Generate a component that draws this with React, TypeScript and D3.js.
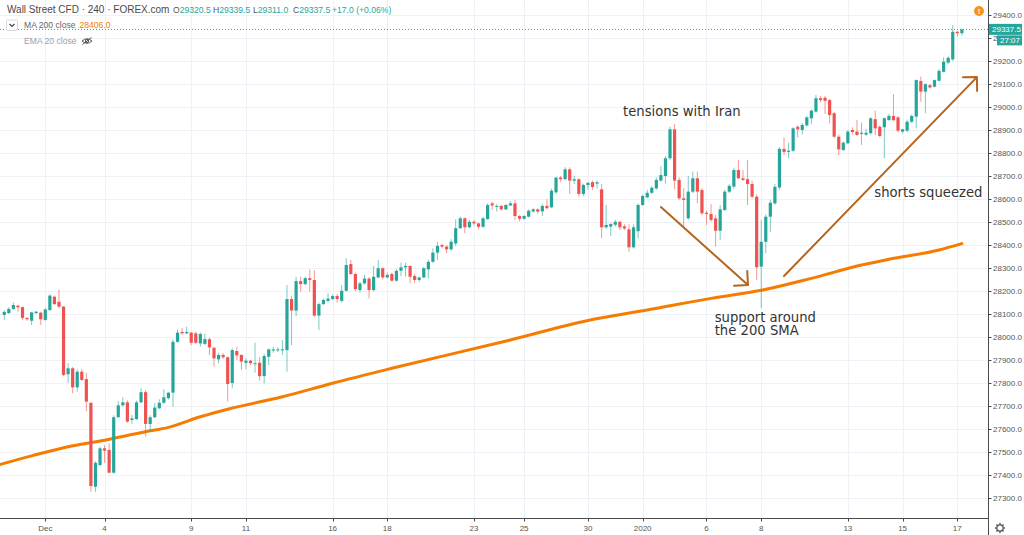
import React from "react";
import * as d3 from "d3";

const W = 1024;
const H = 535;

// 4h candles: [open, high, low, close], Nov 27 2019 -> Jan 17 2020
const candles: [number, number, number, number][] = [
  [28096, 28117, 28074, 28109], [28104, 28130, 28100, 28122], [28122, 28150, 28118, 28139],
  [28136, 28140, 28110, 28129], [28130, 28133, 28074, 28083], [28083, 28085, 28070, 28077],
  [28071, 28110, 28052, 28107], [28104, 28113, 28100, 28110], [28106, 28110, 28052, 28077],
  [28074, 28125, 28070, 28120], [28117, 28185, 28115, 28180], [28175, 28180, 28140, 28143],
  [28153, 28207, 28125, 28132], [28132, 28135, 27830, 27835], [27838, 27886, 27800, 27864],
  [27864, 27870, 27755, 27781], [27781, 27860, 27762, 27849], [27849, 27860, 27810, 27813],
  [27817, 27845, 27678, 27719], [27714, 27716, 27327, 27352], [27349, 27460, 27327, 27453],
  [27443, 27523, 27440, 27516], [27516, 27530, 27453, 27506], [27509, 27538, 27407, 27410],
  [27410, 27660, 27405, 27651], [27651, 27722, 27650, 27703], [27703, 27738, 27697, 27716],
  [27716, 27725, 27627, 27632], [27639, 27661, 27622, 27646], [27643, 27723, 27640, 27716],
  [27716, 27779, 27712, 27760], [27760, 27770, 27567, 27622], [27622, 27660, 27588, 27651],
  [27651, 27712, 27648, 27693], [27690, 27729, 27686, 27714], [27714, 27773, 27710, 27738],
  [27734, 27760, 27728, 27758], [27758, 27990, 27697, 27979], [27979, 28033, 27975, 28019],
  [28022, 28040, 28010, 28016], [28016, 28045, 28012, 28022], [28019, 28022, 27965, 27975],
  [28016, 28023, 27970, 27975], [27972, 28020, 27958, 28013], [27970, 28015, 27965, 27991],
  [27990, 27998, 27922, 27955], [27953, 27958, 27871, 27907], [27903, 27932, 27886, 27922],
  [27922, 27930, 27905, 27912], [27912, 27915, 27719, 27796], [27800, 27951, 27777, 27943],
  [27939, 27958, 27900, 27920], [27922, 27925, 27857, 27893], [27888, 27907, 27860, 27897],
  [27897, 27900, 27878, 27886], [27882, 27975, 27845, 27886], [27888, 27912, 27810, 27830],
  [27830, 27926, 27799, 27917], [27914, 27950, 27878, 27946], [27941, 27958, 27932, 27946],
  [27943, 27955, 27935, 27946], [27943, 27987, 27922, 27946], [27943, 28226, 27849, 28165],
  [28165, 28180, 27965, 28115], [28115, 28262, 28091, 28243], [28243, 28262, 28197, 28230],
  [28230, 28262, 28225, 28256], [28256, 28294, 28197, 28248], [28248, 28291, 28088, 28093],
  [28093, 28150, 28030, 28143], [28143, 28167, 28138, 28161], [28157, 28190, 28150, 28167],
  [28165, 28185, 28160, 28178], [28178, 28187, 28150, 28165], [28157, 28226, 28150, 28201],
  [28201, 28342, 28198, 28313], [28317, 28335, 28270, 28274], [28274, 28280, 28200, 28208],
  [28204, 28240, 28193, 28233], [28233, 28270, 28228, 28254], [28254, 28260, 28168, 28204],
  [28204, 28309, 28200, 28262], [28259, 28335, 28255, 28299], [28299, 28303, 28251, 28259],
  [28259, 28280, 28255, 28270], [28274, 28280, 28240, 28245], [28245, 28295, 28240, 28288],
  [28288, 28323, 28265, 28303], [28303, 28323, 28262, 28309], [28309, 28312, 28233, 28262],
  [28265, 28275, 28235, 28248], [28248, 28262, 28240, 28259], [28259, 28305, 28255, 28299],
  [28294, 28335, 28255, 28327], [28327, 28386, 28322, 28367], [28367, 28414, 28335, 28396],
  [28400, 28407, 28385, 28393], [28393, 28400, 28364, 28381], [28381, 28425, 28375, 28414],
  [28407, 28512, 28396, 28473], [28473, 28523, 28470, 28516], [28516, 28520, 28451, 28477],
  [28477, 28509, 28473, 28501], [28501, 28509, 28485, 28494], [28494, 28497, 28468, 28479],
  [28479, 28523, 28475, 28516], [28513, 28581, 28509, 28574], [28581, 28588, 28552, 28572],
  [28568, 28578, 28545, 28570], [28570, 28574, 28549, 28555], [28555, 28578, 28552, 28574],
  [28572, 28590, 28570, 28581], [28581, 28596, 28509, 28526], [28526, 28530, 28503, 28514],
  [28514, 28530, 28510, 28526], [28523, 28555, 28520, 28549], [28546, 28560, 28540, 28555],
  [28555, 28560, 28535, 28545], [28546, 28578, 28526, 28570], [28570, 28599, 28555, 28560],
  [28564, 28645, 28560, 28636], [28629, 28696, 28622, 28693], [28693, 28700, 28675, 28686],
  [28686, 28738, 28683, 28729], [28729, 28738, 28622, 28680], [28680, 28700, 28665, 28686],
  [28686, 28690, 28610, 28622], [28622, 28667, 28612, 28661], [28661, 28675, 28640, 28670],
  [28673, 28680, 28640, 28652], [28667, 28680, 28645, 28673], [28642, 28665, 28429, 28477],
  [28477, 28574, 28470, 28487], [28480, 28495, 28439, 28491], [28488, 28510, 28480, 28501],
  [28501, 28505, 28465, 28477], [28481, 28490, 28465, 28472], [28468, 28490, 28371, 28390],
  [28390, 28490, 28385, 28477], [28460, 28581, 28429, 28574], [28574, 28620, 28570, 28613],
  [28607, 28640, 28603, 28627], [28627, 28657, 28622, 28649], [28646, 28694, 28640, 28683],
  [28680, 28743, 28675, 28704], [28700, 28787, 28668, 28777], [28777, 28914, 28770, 28903],
  [28903, 28926, 28642, 28680], [28683, 28694, 28596, 28603], [28603, 28647, 28480, 28596],
  [28516, 28700, 28510, 28632], [28632, 28719, 28625, 28690], [28690, 28719, 28581, 28632],
  [28639, 28647, 28530, 28538], [28540, 28549, 28487, 28535], [28535, 28578, 28500, 28509],
  [28516, 28530, 28393, 28462], [28462, 28574, 28422, 28555], [28552, 28640, 28549, 28632],
  [28632, 28665, 28625, 28657], [28654, 28736, 28645, 28726], [28726, 28770, 28686, 28690],
  [28690, 28725, 28678, 28683], [28686, 28770, 28574, 28665], [28665, 28680, 28603, 28610],
  [28610, 28620, 28248, 28303], [28306, 28509, 28125, 28414], [28414, 28533, 28364, 28523],
  [28523, 28597, 28458, 28584], [28581, 28665, 28575, 28653], [28650, 28825, 28640, 28818],
  [28818, 28868, 28791, 28805], [28805, 28845, 28777, 28810], [28810, 28912, 28805, 28907],
  [28914, 28920, 28868, 28903], [28900, 28930, 28880, 28922], [28920, 28960, 28915, 28955],
  [28951, 28990, 28926, 28984], [28980, 29052, 28975, 29038], [29038, 29048, 29020, 29030],
  [29040, 29048, 28970, 29027], [29030, 29035, 28929, 28965], [28973, 28978, 28865, 28871],
  [28871, 28880, 28791, 28816], [28813, 28850, 28810, 28845], [28842, 28900, 28838, 28893],
  [28900, 28912, 28880, 28891], [28893, 28943, 28875, 28878], [28883, 28932, 28835, 28888],
  [28880, 28905, 28875, 28888], [28886, 28955, 28880, 28951], [28947, 28984, 28878, 28907],
  [28914, 28920, 28868, 28874], [28912, 28955, 28777, 28951], [28943, 28970, 28940, 28961],
  [28961, 29056, 28938, 28943], [28955, 28960, 28890, 28897], [28893, 28905, 28885, 28903],
  [28897, 28945, 28890, 28936], [28936, 28968, 28930, 28961], [28958, 29120, 28907, 29117],
  [29113, 29132, 29023, 29067], [29067, 29103, 28973, 29099], [29095, 29100, 29080, 29085],
  [29088, 29120, 29085, 29117], [29114, 29165, 29110, 29157], [29153, 29216, 29150, 29197],
  [29193, 29220, 29185, 29214], [29207, 29356, 29200, 29327], [29327, 29330, 29306, 29320.5],
  [29320.5, 29339.5, 29311, 29337.5],
];

// 200 SMA: [candle index, value]
const ma200: [number, number][] = [
  [-1, 27445], [6, 27483], [14, 27523], [21, 27548], [31, 27588], [36, 27607], [43, 27653],
  [49, 27686], [61, 27740], [72, 27799], [85, 27864], [111, 27987], [128, 28072],
  [141, 28117], [155, 28168], [166, 28203], [177, 28255], [188, 28313], [194, 28338],
  [205, 28378], [210, 28406],
];

const dateLabels = ["Dec", "4", "9", "11", "16", "18", "23", "25", "30", "2020", "6", "8", "13", "15", "17"];
const dateIndex = [9, 22, 41, 53, 72, 84, 103, 114, 128, 140, 154, 166, 185, 197, 209];
const priceTicks = d3.range(27300, 29401, 100);

const annotations = [
  { text: ["tensions with Iran"], i: 148.6, p: 28961, anchor: "middle" },
  { text: ["support around", "the 200 SMA"], i: 155.8, p: 28067, anchor: "start" },
  { text: ["shorts squeezed"], i: 190.8, p: 28610, anchor: "start" },
];
const arrows = [
  { from: [144, 28565], to: [163.1, 28226] },
  { from: [171, 28265], to: [213.3, 29130] },
];

const UP = "#26a69a";
const DOWN = "#ef5350";
const MA = "#f57c00";
const ARROW = "#b5651d";
const GRID = "#eef1f6";
const AXIS_FONT = "'Liberation Sans', Arial, sans-serif";

export default function App() {
  const plotR = 988.5;
  const plotB = 518.5;
  const x = d3.scaleLinear().domain([0, 210]).range([4.26, 961.86]);
  const y = d3.scaleLinear().domain([27300, 29400]).range([498, 15]);
  const last = candles[candles.length - 1][3];

  const maLine = d3
    .line<[number, number]>()
    .x((d) => x(d[0]))
    .y((d) => y(d[1]))
    .curve(d3.curveMonotoneX);

  const arrowPath = (a: { from: number[]; to: number[] }) => {
    const x1 = x(a.from[0]), y1 = y(a.from[1]);
    const x2 = x(a.to[0]), y2 = y(a.to[1]);
    const ang = Math.atan2(y1 - y2, x1 - x2);
    const L = 14;
    const p1 = [x2 + L * Math.cos(ang + Math.PI / 4), y2 + L * Math.sin(ang + Math.PI / 4)];
    const p2 = [x2 + L * Math.cos(ang - Math.PI / 4), y2 + L * Math.sin(ang - Math.PI / 4)];
    return `M${x1},${y1}L${x2},${y2}M${p1[0]},${p1[1]}L${x2},${y2}L${p2[0]},${p2[1]}`;
  };

  return (
    <svg
      width={W}
      height={H}
      style={{ position: "absolute", left: 0, top: 0, background: "#fff" }}
    >
      <defs>
        <clipPath id="plot">
          <rect x={0} y={0} width={plotR} height={plotB} />
        </clipPath>
      </defs>

      {/* grid */}
      <g clipPath="url(#plot)">
        {priceTicks.map((p) => (
          <line key={p} x1={0} x2={plotR} y1={Math.round(y(p)) + 0.5} y2={Math.round(y(p)) + 0.5} stroke={GRID} />
        ))}
        {dateIndex.map((i) => (
          <line key={i} x1={Math.round(x(i)) + 0.5} x2={Math.round(x(i)) + 0.5} y1={0} y2={plotB} stroke={GRID} />
        ))}
      </g>

      <g clipPath="url(#plot)">
        {/* last price dotted line */}
        <line x1={0} x2={plotR} y1={y(last)} y2={y(last)} stroke={UP} strokeDasharray="1 2" strokeWidth={1} />

        {/* MA 200 */}
        <path d={maLine(ma200) || ""} fill="none" stroke={MA} strokeWidth={3} strokeLinecap="round" />

        {/* candles */}
        {candles.map((c, i) => {
          const [o, h, l, cl] = c;
          const col = cl >= o ? UP : DOWN;
          const cx = x(i);
          const top = y(Math.max(o, cl));
          const bot = y(Math.min(o, cl));
          return (
            <g key={i}>
              <line x1={cx} x2={cx} y1={y(h)} y2={y(l)} stroke={col} strokeOpacity={0.6} strokeWidth={1} />
              <rect x={cx - 1.6} width={3.2} y={top} height={Math.max(1, bot - top)} fill={col} />
            </g>
          );
        })}

        {/* annotations */}
        {arrows.map((a, k) => (
          <path key={k} d={arrowPath(a)} fill="none" stroke={ARROW} strokeWidth={2} strokeLinecap="round" strokeLinejoin="round" />
        ))}
        {annotations.map((a, k) => (
          <text
            key={k}
            x={x(a.i)}
            y={y(a.p)}
            textAnchor={a.anchor as any}
            fontFamily="'DejaVu Sans', Verdana, sans-serif"
            fontSize={13.2}
            fill="#333"
          >
            {a.text.map((t, j) => (
              <tspan key={j} x={x(a.i)} dy={j === 0 ? 0 : 13.5}>
                {t}
              </tspan>
            ))}
          </text>
        ))}
      </g>

      {/* axes */}
      <line x1={0} x2={plotR} y1={plotB} y2={plotB} stroke="#4a4a4a" />
      <line x1={plotR} x2={plotR} y1={0} y2={H} stroke="#4a4a4a" />
      {dateIndex.map((i, k) => (
        <g key={i}>
          <line x1={Math.round(x(i)) + 0.5} x2={Math.round(x(i)) + 0.5} y1={plotB} y2={plotB + 3} stroke="#4a4a4a" />
          <text x={x(i)} y={531} textAnchor="middle" fontFamily={AXIS_FONT} fontSize={8} fill="#555">
            {dateLabels[k]}
          </text>
        </g>
      ))}
      {priceTicks.map((p) => (
        <g key={p}>
          <line x1={plotR} x2={plotR + 3} y1={Math.round(y(p)) + 0.5} y2={Math.round(y(p)) + 0.5} stroke="#4a4a4a" />
          <text x={993} y={y(p) + 3} fontFamily={AXIS_FONT} fontSize={8} fill="#555">
            {d3.format(".1f")(p)}
          </text>
        </g>
      ))}

      {/* last price label */}
      <rect x={989} y={y(last) - 5.5} width={33} height={11} fill={UP} />
      <text x={992} y={y(last) + 3} fontFamily={AXIS_FONT} fontSize={8} fill="#fff">
        {d3.format(".1f")(last)}
      </text>
      <rect x={997} y={y(last) + 6} width={25} height={10} fill={UP} />
      <text x={1000} y={y(last) + 14} fontFamily={AXIS_FONT} fontSize={8} fill="#fff">
        27:07
      </text>

      {/* alert marker */}
      <circle cx={979} cy={11} r={5} fill="#f7931e" />
      <text x={979} y={14} textAnchor="middle" fontFamily={AXIS_FONT} fontSize={8} fontWeight="bold" fill="#fff">
        !
      </text>

      {/* settings gear */}
      <g transform="translate(1000,528)" stroke="#555" fill="none">
        <circle r={3.2} strokeWidth={1.2} />
        {d3.range(8).map((k) => {
          const a = (k * Math.PI) / 4;
          return <line key={k} x1={3.2 * Math.cos(a)} y1={3.2 * Math.sin(a)} x2={5 * Math.cos(a)} y2={5 * Math.sin(a)} strokeWidth={1.4} />;
        })}
      </g>

      {/* legend */}
      <g fontFamily={AXIS_FONT}>
        <text x={7} y={13} fontSize={10} fill="#4a4a4a">
          Wall Street CFD · 240 · FOREX.com
        </text>
        {[
          ["O", candles[210][0], 173],
          ["H", candles[210][1], 213],
          ["L", candles[210][2], 253],
          ["C", candles[210][3], 293],
        ].map(([k, v, px]) => (
          <text key={k as string} x={px as number} y={13} fontSize={8.6}>
            <tspan fill="#555">{k}</tspan>
            <tspan fill={UP}>{d3.format(".1f")(v as number)}</tspan>
          </text>
        ))}
        <text x={332} y={13} fontSize={8.6} fill={UP}>
          +17.0 (+0.06%)
        </text>

        <rect x={6.5} y={20} width={11} height={10.5} rx={1.5} fill="#fff" stroke="#d5d8de" />
        <path d="M9.5,24 L12,26.5 L14.5,24" fill="none" stroke="#444" strokeWidth={1.2} />
        <text x={24} y={28} fontSize={8.6} fill="#666">
          MA 200 close
        </text>
        <text x={79.5} y={28} fontSize={8.6} fill={MA}>
          {d3.format(".1f")(ma200[ma200.length - 1][1])}
        </text>
        <text x={24} y={44} fontSize={8.6} fill="#9a9ea6">
          EMA 20 close
        </text>
        <g transform="translate(87,41)" fill="none" stroke="#555" strokeWidth={1}>
          <path d="M-5,0 Q0,-4.5 5,0 Q0,4.5 -5,0 Z" />
          <circle r={1.6} />
          <line x1={-4.5} y1={3.5} x2={4.5} y2={-3.5} />
        </g>
      </g>
    </svg>
  );
}
